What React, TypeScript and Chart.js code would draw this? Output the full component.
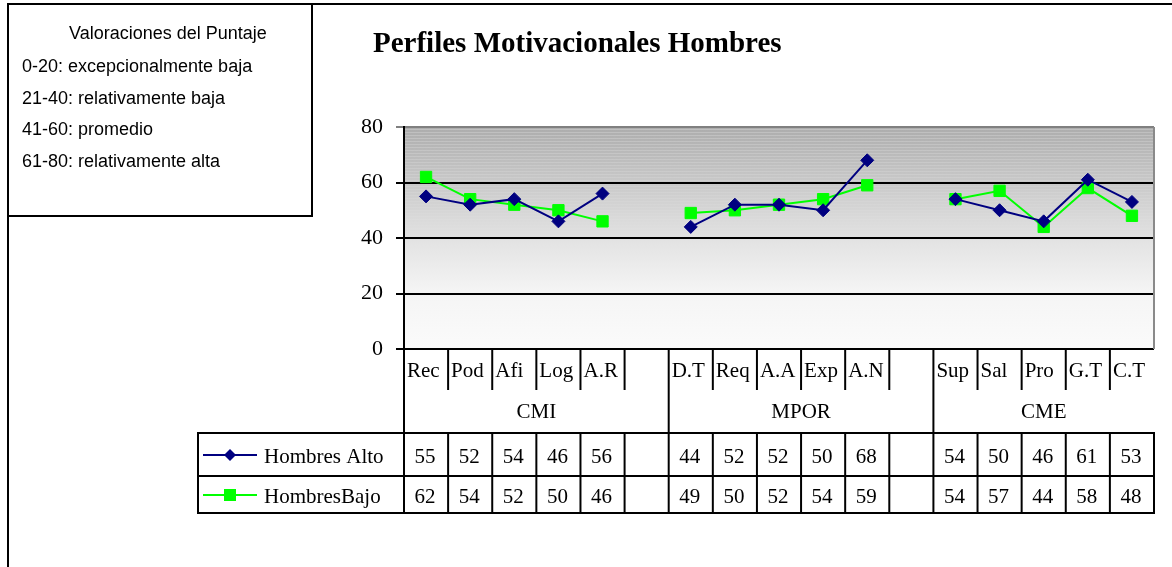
import React, { useEffect, useRef } from 'react';
import { Chart, registerables } from 'chart.js';

Chart.register(...registerables);

const chartTitle = 'Perfiles Motivacionales Hombres';
const notesTitle = 'Valoraciones del Puntaje';
const notes = [
  '0-20: excepcionalmente baja',
  '21-40: relativamente baja',
  '41-60: promedio',
  '61-80: relativamente alta',
];
const categories = ['Rec', 'Pod', 'Afi', 'Log', 'A.R', '', 'D.T', 'Req', 'A.A', 'Exp', 'A.N', '', 'Sup', 'Sal', 'Pro', 'G.T', 'C.T'];
const groups = ['CMI', 'MPOR', 'CME'];
const groupSizes = [6, 6, 5];
const seriesNames = ['Hombres Alto', 'HombresBajo'];
const hombresAlto = [55, 52, 54, 46, 56, null, 44, 52, 52, 50, 68, null, 54, 50, 46, 61, 53];
const hombresBajo = [62, 54, 52, 50, 46, null, 49, 50, 52, 54, 59, null, 54, 57, 44, 58, 48];
const yTickValues = [0, 20, 40, 60, 80];

const SERIF = '"Liberation Serif", "Times New Roman", serif';
const SANS = '"Liberation Sans", Arial, sans-serif';
const ALTO_COLOR = '#000080';
const BAJO_COLOR = '#00ff00';

function line(ctx: CanvasRenderingContext2D, x1: number, y1: number, x2: number, y2: number) {
  ctx.beginPath();
  ctx.moveTo(x1, y1);
  ctx.lineTo(x2, y2);
  ctx.stroke();
}

const backgroundPlugin = {
  id: 'plotBackground',
  beforeDraw(chart: any) {
    const { ctx, chartArea: a } = chart;
    ctx.save();
    const g = ctx.createLinearGradient(0, a.top, 0, a.bottom);
    g.addColorStop(0, '#adadad');
    g.addColorStop(0.25, '#c9c9c9');
    g.addColorStop(0.5, '#e2e2e2');
    g.addColorStop(0.75, '#f5f5f5');
    g.addColorStop(1, '#fbfbfb');
    ctx.fillStyle = g;
    ctx.fillRect(a.left, a.top, a.right - a.left, a.bottom - a.top);
    // faint banding
    const h = a.bottom - a.top;
    for (let y = a.top + 2; y < a.top + h * 0.55; y += 3) {
      const t = (y - a.top) / (h * 0.55);
      ctx.fillStyle = `rgba(255,255,255,${0.22 * (1 - t)})`;
      ctx.fillRect(a.left, y, a.right - a.left, 1);
    }
    ctx.restore();
  },
};

const decorPlugin = {
  id: 'decor',
  afterDraw(chart: any) {
    const { ctx, chartArea: a } = chart;
    const xs = chart.scales.x;
    const n = categories.length;
    const cellW = (a.right - a.left) / n;
    const edge = (i: number) => (i < n ? xs.getPixelForValue(i) - cellW / 2 : xs.getPixelForValue(n - 1) + cellW / 2);
    const center = (i: number) => xs.getPixelForValue(i);

    ctx.save();
    ctx.strokeStyle = '#000';
    ctx.lineWidth = 2;
    // outer frame + notes box
    line(ctx, 8, 567, 8, 4);
    line(ctx, 7, 4, 1172, 4);
    line(ctx, 312, 4, 312, 216);
    line(ctx, 7, 216, 313, 216);

    // notes
    ctx.fillStyle = '#000';
    ctx.font = `18px ${SANS}`;
    ctx.textBaseline = 'alphabetic';
    ctx.textAlign = 'left';
    ctx.fillText(notesTitle, 69, 39);
    const noteBase = [72, 104, 135, 167];
    notes.forEach((t, i) => ctx.fillText(t, 22, noteBase[i]));

    // title
    ctx.font = `bold 29px ${SERIF}`;
    ctx.fillText(chartTitle, 373, 52);

    // plot right border
    ctx.strokeStyle = '#8a8a8a';
    line(ctx, a.right, a.top, a.right, a.bottom);
    ctx.strokeStyle = '#000';

    // category axis: boundaries
    const groupStarts: number[] = [];
    let acc = 0;
    groupSizes.forEach((s) => { groupStarts.push(acc); acc += s; });
    const rowTop = 433, rowMid = 476, rowBot = 513;
    for (let i = 0; i < n; i++) {
      const x = edge(i);
      if (groupStarts.includes(i)) line(ctx, x, a.bottom, x, rowTop);
      else line(ctx, x, a.bottom, x, 390);
    }
    ctx.font = `21px ${SERIF}`;
    ctx.textAlign = 'left';
    categories.forEach((c, i) => ctx.fillText(c, edge(i) + 3, 377));
    ctx.textAlign = 'center';
    groups.forEach((gname, gi) => {
      const s = groupStarts[gi];
      const e = s + groupSizes[gi];
      ctx.fillText(gname, (edge(s) + edge(e)) / 2, 418);
    });

    // data table
    const tableLeft = 198;
    line(ctx, tableLeft - 1, rowTop, a.right + 1, rowTop);
    line(ctx, tableLeft - 1, rowMid, a.right + 1, rowMid);
    line(ctx, tableLeft - 1, rowBot, a.right + 1, rowBot);
    line(ctx, tableLeft, rowTop, tableLeft, rowBot);
    for (let i = 0; i <= n; i++) {
      const x = edge(i);
      line(ctx, x, rowTop, x, rowBot);
    }
    const rows = [
      { name: seriesNames[0], data: hombresAlto, color: ALTO_COLOR, style: 'rectRot', base: 463, mid: 455 },
      { name: seriesNames[1], data: hombresBajo, color: BAJO_COLOR, style: 'rect', base: 503, mid: 495 },
    ];
    rows.forEach((r) => {
      ctx.strokeStyle = r.color;
      ctx.lineWidth = 2;
      line(ctx, 203, r.mid, 257, r.mid);
      ctx.fillStyle = r.color;
      if (r.style === 'rectRot') {
        ctx.beginPath();
        ctx.moveTo(230, r.mid - 6);
        ctx.lineTo(236, r.mid);
        ctx.lineTo(230, r.mid + 6);
        ctx.lineTo(224, r.mid);
        ctx.closePath();
        ctx.fill();
      } else {
        ctx.fillRect(224, r.mid - 6, 12, 12);
      }
      ctx.fillStyle = '#000';
      ctx.textAlign = 'left';
      ctx.fillText(r.name, 264, r.base);
      ctx.textAlign = 'center';
      r.data.forEach((v, i) => {
        if (v !== null) ctx.fillText(String(v), center(i) - 1, r.base);
      });
    });
    ctx.restore();
  },
};

export default function App() {
  const ref = useRef<HTMLCanvasElement | null>(null);
  useEffect(() => {
    if (!ref.current) return;
    const chart = new Chart(ref.current, {
      type: 'line',
      data: {
        labels: categories,
        datasets: [
          {
            label: seriesNames[0],
            data: hombresAlto,
            borderColor: ALTO_COLOR,
            backgroundColor: ALTO_COLOR,
            borderWidth: 2,
            pointStyle: 'rectRot',
            pointRadius: 6.5,
            pointBorderWidth: 1,
            spanGaps: false,
          },
          {
            label: seriesNames[1],
            data: hombresBajo,
            borderColor: BAJO_COLOR,
            backgroundColor: BAJO_COLOR,
            borderWidth: 2,
            pointStyle: 'rect',
            pointRadius: 8,
            pointBorderWidth: 1,
            spanGaps: false,
          },
        ],
      },
      options: {
        responsive: false,
        animation: false,
        layout: { padding: { left: 0, top: 127, right: 18, bottom: 218 } },
        plugins: { legend: { display: false }, tooltip: { enabled: false }, title: { display: false } },
        scales: {
          x: { type: 'category', offset: true, display: false },
          y: {
            min: 0,
            max: 80,
            afterFit: (s: any) => { s.width = 404; },
            afterBuildTicks: (s: any) => { s.ticks = yTickValues.map((v) => ({ value: v })); },
            ticks: {
              color: '#000',
              padding: 13,
              font: { family: SERIF, size: 22 },
            },
            grid: {
              color: (c: any) => (c.tick && c.tick.value === 80 ? '#808080' : '#000'),
              lineWidth: 2,
              tickLength: 8,
            },
            border: { color: '#000', width: 2 },
          },
        },
      },
      plugins: [backgroundPlugin, decorPlugin],
    } as any);
    return () => chart.destroy();
  }, []);
  return (
    <div style={{ position: 'absolute', left: 0, top: 0, width: 1172, height: 567, background: '#fff' }}>
      <canvas ref={ref} width={1172} height={567} style={{ width: 1172, height: 567, display: 'block' }} />
    </div>
  );
}
